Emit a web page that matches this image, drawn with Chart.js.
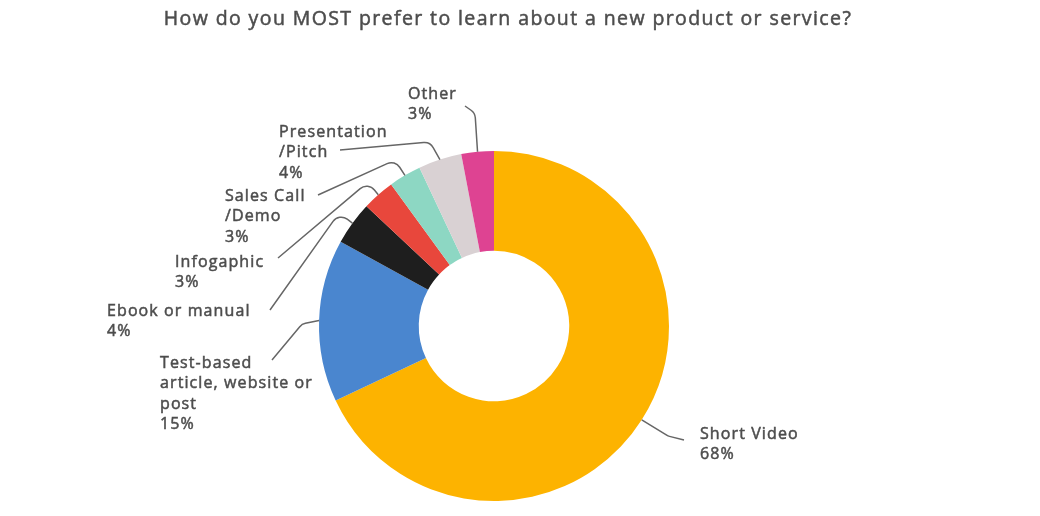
<!DOCTYPE html>
<html><head><meta charset="utf-8">
<script src="https://cdn.jsdelivr.net/npm/chart.js@4/dist/chart.umd.min.js"></script>
<style>html,body{margin:0;padding:0;background:#fff}#wrap{width:1040px;height:516px}</style>
</head><body><div id="wrap"><canvas id="c" width="1040" height="516"></canvas></div>
<script>
const title = 'How do you MOST prefer to learn about a new product or service?';
const categories = ['Short Video', 'Test-based article, website or post', 'Ebook or manual', 'Infogaphic', 'Sales Call /Demo', 'Presentation /Pitch', 'Other'];
const values = [68, 15, 4, 3, 3, 4, 3];
const colors = ['#FDB300', '#4A86CF', '#1E1E1E', '#E8473C', '#8DD7C3', '#D9D1D3', '#DE4392'];
const labelLines = [
  ['Short Video'],
  ['Test-based', 'article, website or', 'post'],
  ['Ebook or manual'],
  ['Infogaphic'],
  ['Sales Call', '/Demo'],
  ['Presentation', '/Pitch'],
  ['Other']
];
// annotation layout: text anchor, leader end near text, elbow
const labelPos = [
  {x: 700, y: 434, end: [684, 440], elbow: [668, 436]},
  {x: 160, y: 363, end: [272, 360], elbow: [302, 324]},
  {x: 107, y: 311, end: [270, 310], elbow: [339, 213]},
  {x: 175, y: 262, end: [278, 258], elbow: [368, 182]},
  {x: 225, y: 196, end: [318, 195], elbow: [395, 160]},
  {x: 279, y: 132, end: [340, 150], elbow: [430, 142]},
  {x: 408, y: 94, end: [465, 106], elbow: [475, 113]}
];

function boldText(ctx, t, x, y) {
  ctx.fillText(t, x, y);
  ctx.strokeText(t, x, y);
}

const annot = {
  id: 'annot',
  afterDraw(chart) {
    const ctx = chart.ctx;
    ctx.save();
    ctx.fillStyle = '#4d4d4d';
    ctx.strokeStyle = '#4d4d4d';
    ctx.lineWidth = 0.5;
    ctx.font = '19.5px "Open Sans"';
    ctx.letterSpacing = '1.4px';
    ctx.textAlign = 'center';
    ctx.textBaseline = 'middle';
    boldText(ctx, title, 508, 19);
    const meta = chart.getDatasetMeta(0);
    ctx.font = '16px "Open Sans"';
    ctx.letterSpacing = '1.1px';
    ctx.textAlign = 'left';
    meta.data.forEach((arc, i) => {
      const p = labelPos[i];
      const lines = labelLines[i].concat([values[i] + '%']);
      ctx.strokeStyle = '#4d4d4d';
      ctx.lineWidth = 0.5;
      lines.forEach((t, k) => boldText(ctx, t, p.x, p.y + k * 20.5));
      const a = (arc.startAngle + arc.endAngle) / 2;
      const ax = arc.x + Math.cos(a) * arc.outerRadius;
      const ay = arc.y + Math.sin(a) * arc.outerRadius;
      ctx.beginPath();
      ctx.strokeStyle = '#666';
      ctx.lineWidth = 1.5;
      ctx.moveTo(p.end[0], p.end[1]);
      ctx.arcTo(p.elbow[0], p.elbow[1], ax, ay, 10);
      ctx.lineTo(ax, ay);
      ctx.stroke();
    });
    ctx.restore();
  }
};

new Chart(document.getElementById('c'), {
  type: 'doughnut',
  data: {
    labels: categories,
    datasets: [{data: values, backgroundColor: colors, borderWidth: 0}]
  },
  options: {
    responsive: false,
    animation: false,
    cutout: '43%',
    layout: {padding: {left: 319, right: 371, top: 151, bottom: 15}},
    plugins: {legend: {display: false}, tooltip: {enabled: false}, title: {display: false}}
  },
  plugins: [annot]
});
</script></body></html>
